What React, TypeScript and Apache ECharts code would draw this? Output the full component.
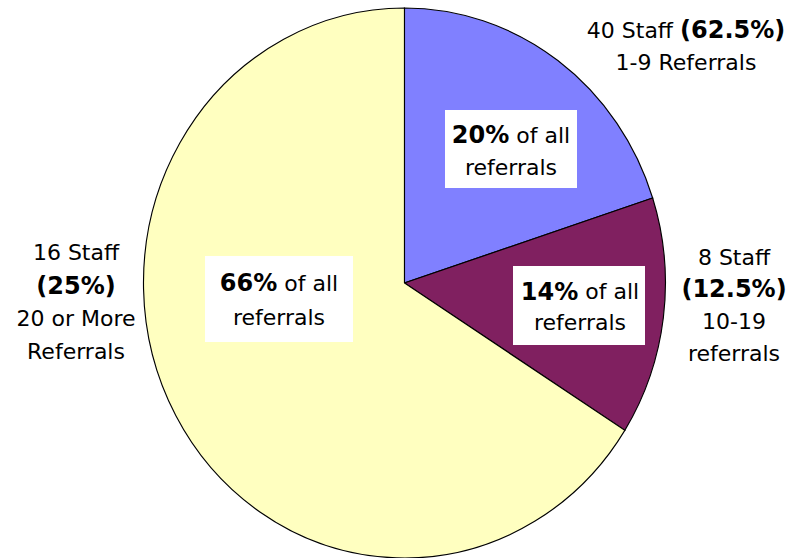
import React, { useEffect, useRef } from 'react';
import * as echarts from 'echarts';

// ---- data ----
const categories = ['1-9 Referrals', '10-19\nreferrals', '20 or More\nReferrals'];
const referralShare = [20, 14, 66];
const staffCounts = [40, 8, 16];
const staffShare = ['62.5%', '12.5%', '25%'];
const sliceColors = ['#8080FF', '#802060', '#FFFFC0'];

const FONT = '"DejaVu Sans", Tahoma, Verdana, sans-serif';
const FS = 22;
const FSB = 24;

const CX = 404.5;
const CY = 283;
const RY = 275;
const RX = 261;

function rich(lh: number) {
  return {
    n: { fontSize: FS, fontFamily: FONT, fill: '#000', lineHeight: lh },
    b: { fontSize: FSB, fontFamily: FONT, fill: '#000', lineHeight: lh, fontWeight: 'bold' },
  };
}

function lines(s: string, tag = 'n') {
  return s.split('\n').map((l) => `{${tag}|${l}}`).join('\n');
}

export default function App() {
  const ref = useRef<HTMLDivElement>(null);
  useEffect(() => {
    if (!ref.current) return;
    const chart = echarts.init(ref.current, null, { renderer: 'svg' });
    const total = referralShare.reduce((a, b) => a + b, 0);

    const outside = [
      { x: 686, y: 46, lh: 32, text: `{n|${staffCounts[0]} Staff }{b|(${staffShare[0]})}\n${lines(categories[0])}` },
      { x: 734, y: 305, lh: 32, text: `{n|${staffCounts[1]} Staff}\n{b|(${staffShare[1]})}\n${lines(categories[1])}` },
      { x: 76, y: 302, lh: 33, text: `{n|${staffCounts[2]} Staff}\n{b|(${staffShare[2]})}\n${lines(categories[2])}` },
    ];
    const inside = [
      { box: [445, 110, 132, 78], x: 511, y: 151, lh: 32 },
      { box: [513, 266, 132, 79], x: 580, y: 307, lh: 31 },
      { box: [205, 256, 148, 86], x: 279, y: 300, lh: 34 },
    ];

    const graphic: any[] = [];
    inside.forEach((p, i) => {
      graphic.push({
        type: 'rect',
        shape: { x: p.box[0], y: p.box[1], width: p.box[2], height: p.box[3] },
        style: { fill: '#fff' },
        z: 10,
      });
      graphic.push({
        type: 'text',
        x: p.x,
        y: p.y,
        z: 11,
        style: {
          text: `{b|${referralShare[i]}%}{n| of all}\n{n|referrals}`,
          rich: rich(p.lh),
          fontSize: FS,
          fontFamily: FONT,
          lineHeight: p.lh,
          align: 'center',
          verticalAlign: 'middle',
        },
      });
    });
    outside.forEach((p) => {
      graphic.push({
        type: 'text',
        x: p.x,
        y: p.y,
        z: 11,
        style: {
          text: p.text,
          rich: rich(p.lh),
          fontSize: FS,
          fontFamily: FONT,
          lineHeight: p.lh,
          align: 'center',
          verticalAlign: 'middle',
        },
      });
    });

    chart.setOption({
      animation: false,
      backgroundColor: '#fff',
      series: [
        {
          type: 'custom',
          coordinateSystem: 'none',
          data: referralShare.map((v, i) => ({ value: [v], name: categories[i] })),
          renderItem: (params: any, api: any) => {
            const i = params.dataIndex;
            let before = 0;
            for (let j = 0; j < i; j++) before += referralShare[j];
            const start = -Math.PI / 2 + (before / total) * Math.PI * 2;
            const end = start + (api.value(0) / total) * Math.PI * 2;
            return {
              type: 'sector',
              shape: { cx: CX, cy: CY, r: RY, r0: 0, startAngle: start, endAngle: end, clockwise: true },
              scaleX: RX / RY,
              originX: CX,
              originY: CY,
              style: { fill: sliceColors[i], stroke: '#000', lineWidth: 1.2 },
            };
          },
        },
      ],
      graphic,
    });
    return () => chart.dispose();
  }, []);
  return <div ref={ref} style={{ position: 'fixed', left: 0, top: 0, width: 804, height: 558 }} />;
}
